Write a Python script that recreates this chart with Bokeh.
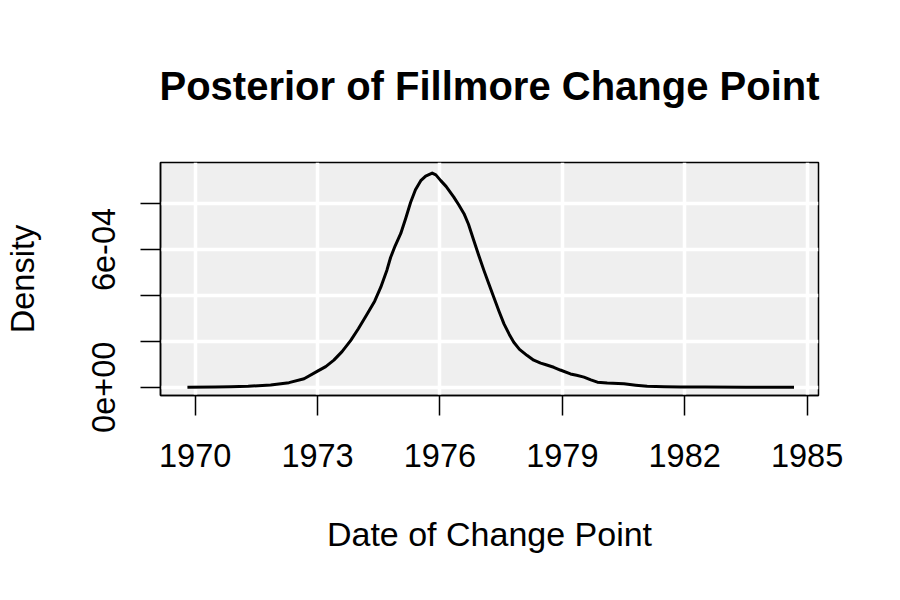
from bokeh.plotting import figure
from bokeh.models import FixedTicker, Range1d
from bokeh.embed import file_html
from bokeh.resources import INLINE

# Posterior density of the change point date
years = [1969.81, 1970.5, 1970.87, 1971.3, 1971.85, 1972.3, 1972.67, 1973.0, 1973.2,
         1973.4, 1973.6, 1973.81, 1974.0, 1974.22, 1974.4, 1974.55, 1974.7, 1974.79,
         1974.9, 1975.04, 1975.16, 1975.28, 1975.4, 1975.53, 1975.65, 1975.81, 1975.9,
         1976.02, 1976.15, 1976.34, 1976.46, 1976.59, 1976.7, 1976.83, 1976.95, 1977.08,
         1977.2, 1977.32, 1977.45, 1977.57, 1977.7, 1977.81, 1977.95, 1978.14, 1978.3,
         1978.47, 1978.6, 1978.79, 1978.95, 1979.2, 1979.35, 1979.53, 1979.7, 1979.86,
         1980.1, 1980.51, 1980.8, 1981.08, 1981.5, 1981.9, 1982.5, 1983.5, 1984.68]
density_e4 = [0.0, 0.01, 0.02, 0.04, 0.1, 0.2, 0.37, 0.7, 0.9,
              1.18, 1.55, 2.03, 2.55, 3.2, 3.75, 4.36, 5.1, 5.65,
              6.15, 6.7, 7.35, 8.05, 8.6, 9.0, 9.2, 9.33, 9.25,
              9.0, 8.75, 8.28, 7.95, 7.56, 7.1, 6.39, 5.75, 5.08,
              4.5, 3.92, 3.3, 2.76, 2.3, 1.96, 1.65, 1.38, 1.18,
              1.05, 0.98, 0.87, 0.75, 0.58, 0.52, 0.44, 0.32, 0.22,
              0.18, 0.15, 0.09, 0.04, 0.02, 0.01, 0.005, 0.0, 0.0]
density = [d * 1e-4 for d in density_e4]

x_ticks = [1970, 1973, 1976, 1979, 1982, 1985]
y_ticks = [0.0, 0.0002, 0.0004, 0.0006, 0.0008]
y_tick_labels = ["0e+00", "", "", "6e-04", ""]

FONT = "Liberation Sans"

p = figure(width=884, height=584, output_backend="svg", toolbar_location=None,
           x_range=Range1d(1969.15, 1985.28), y_range=Range1d(-3.6e-5, 9.79e-4),
           min_border_left=160, min_border_right=66, min_border_top=162,
           min_border_bottom=189,
           title="Posterior of Fillmore Change Point")

p.title.text_font = FONT
p.title.text_font_size = "40px"
p.title.text_font_style = "bold"
p.title.text_color = "black"
p.title.align = "center"
p.title.standoff = 110

p.background_fill_color = "#EFEFEF"
p.border_fill_color = "white"
p.outline_line_color = "black"
p.outline_line_width = 1.5
p.outline_line_alpha = 1.0

for g in (p.xgrid, p.ygrid):
    g.grid_line_color = "white"
    g.grid_line_width = 3.5
p.xgrid.ticker = FixedTicker(ticks=x_ticks)
p.ygrid.ticker = FixedTicker(ticks=y_ticks)

for ax in (p.xaxis, p.yaxis):
    ax.axis_line_color = "black"
    ax.axis_line_width = 1.5
    ax.major_tick_line_color = "black"
    ax.major_tick_line_width = 1.5
    ax.major_tick_in = 0
    ax.major_tick_out = 20
    ax.minor_tick_line_color = None
    ax.major_label_text_font = FONT
    ax.major_label_text_font_size = "32.5px"
    ax.major_label_text_color = "black"
    ax.axis_label_text_font = FONT
    ax.axis_label_text_font_style = "normal"
    ax.axis_label_text_color = "black"

p.xaxis.ticker = FixedTicker(ticks=x_ticks)
p.xaxis.major_label_standoff = 28
p.xaxis.axis_label = "Date of Change Point"
p.xaxis.axis_label_text_font_size = "34px"
p.xaxis.axis_label_standoff = 45

p.yaxis.ticker = FixedTicker(ticks=y_ticks)
p.yaxis.major_label_overrides = {t: s for t, s in zip(y_ticks, y_tick_labels)}
p.yaxis.major_label_orientation = "vertical"
p.yaxis.major_label_standoff = 25
p.yaxis.axis_label = "Density"
p.yaxis.axis_label_text_font_size = "32.5px"
p.yaxis.axis_label_standoff = 49

p.line(years, density, line_color="black", line_width=3, line_join="round")

open("out.html", "w").write(file_html(p, INLINE))
